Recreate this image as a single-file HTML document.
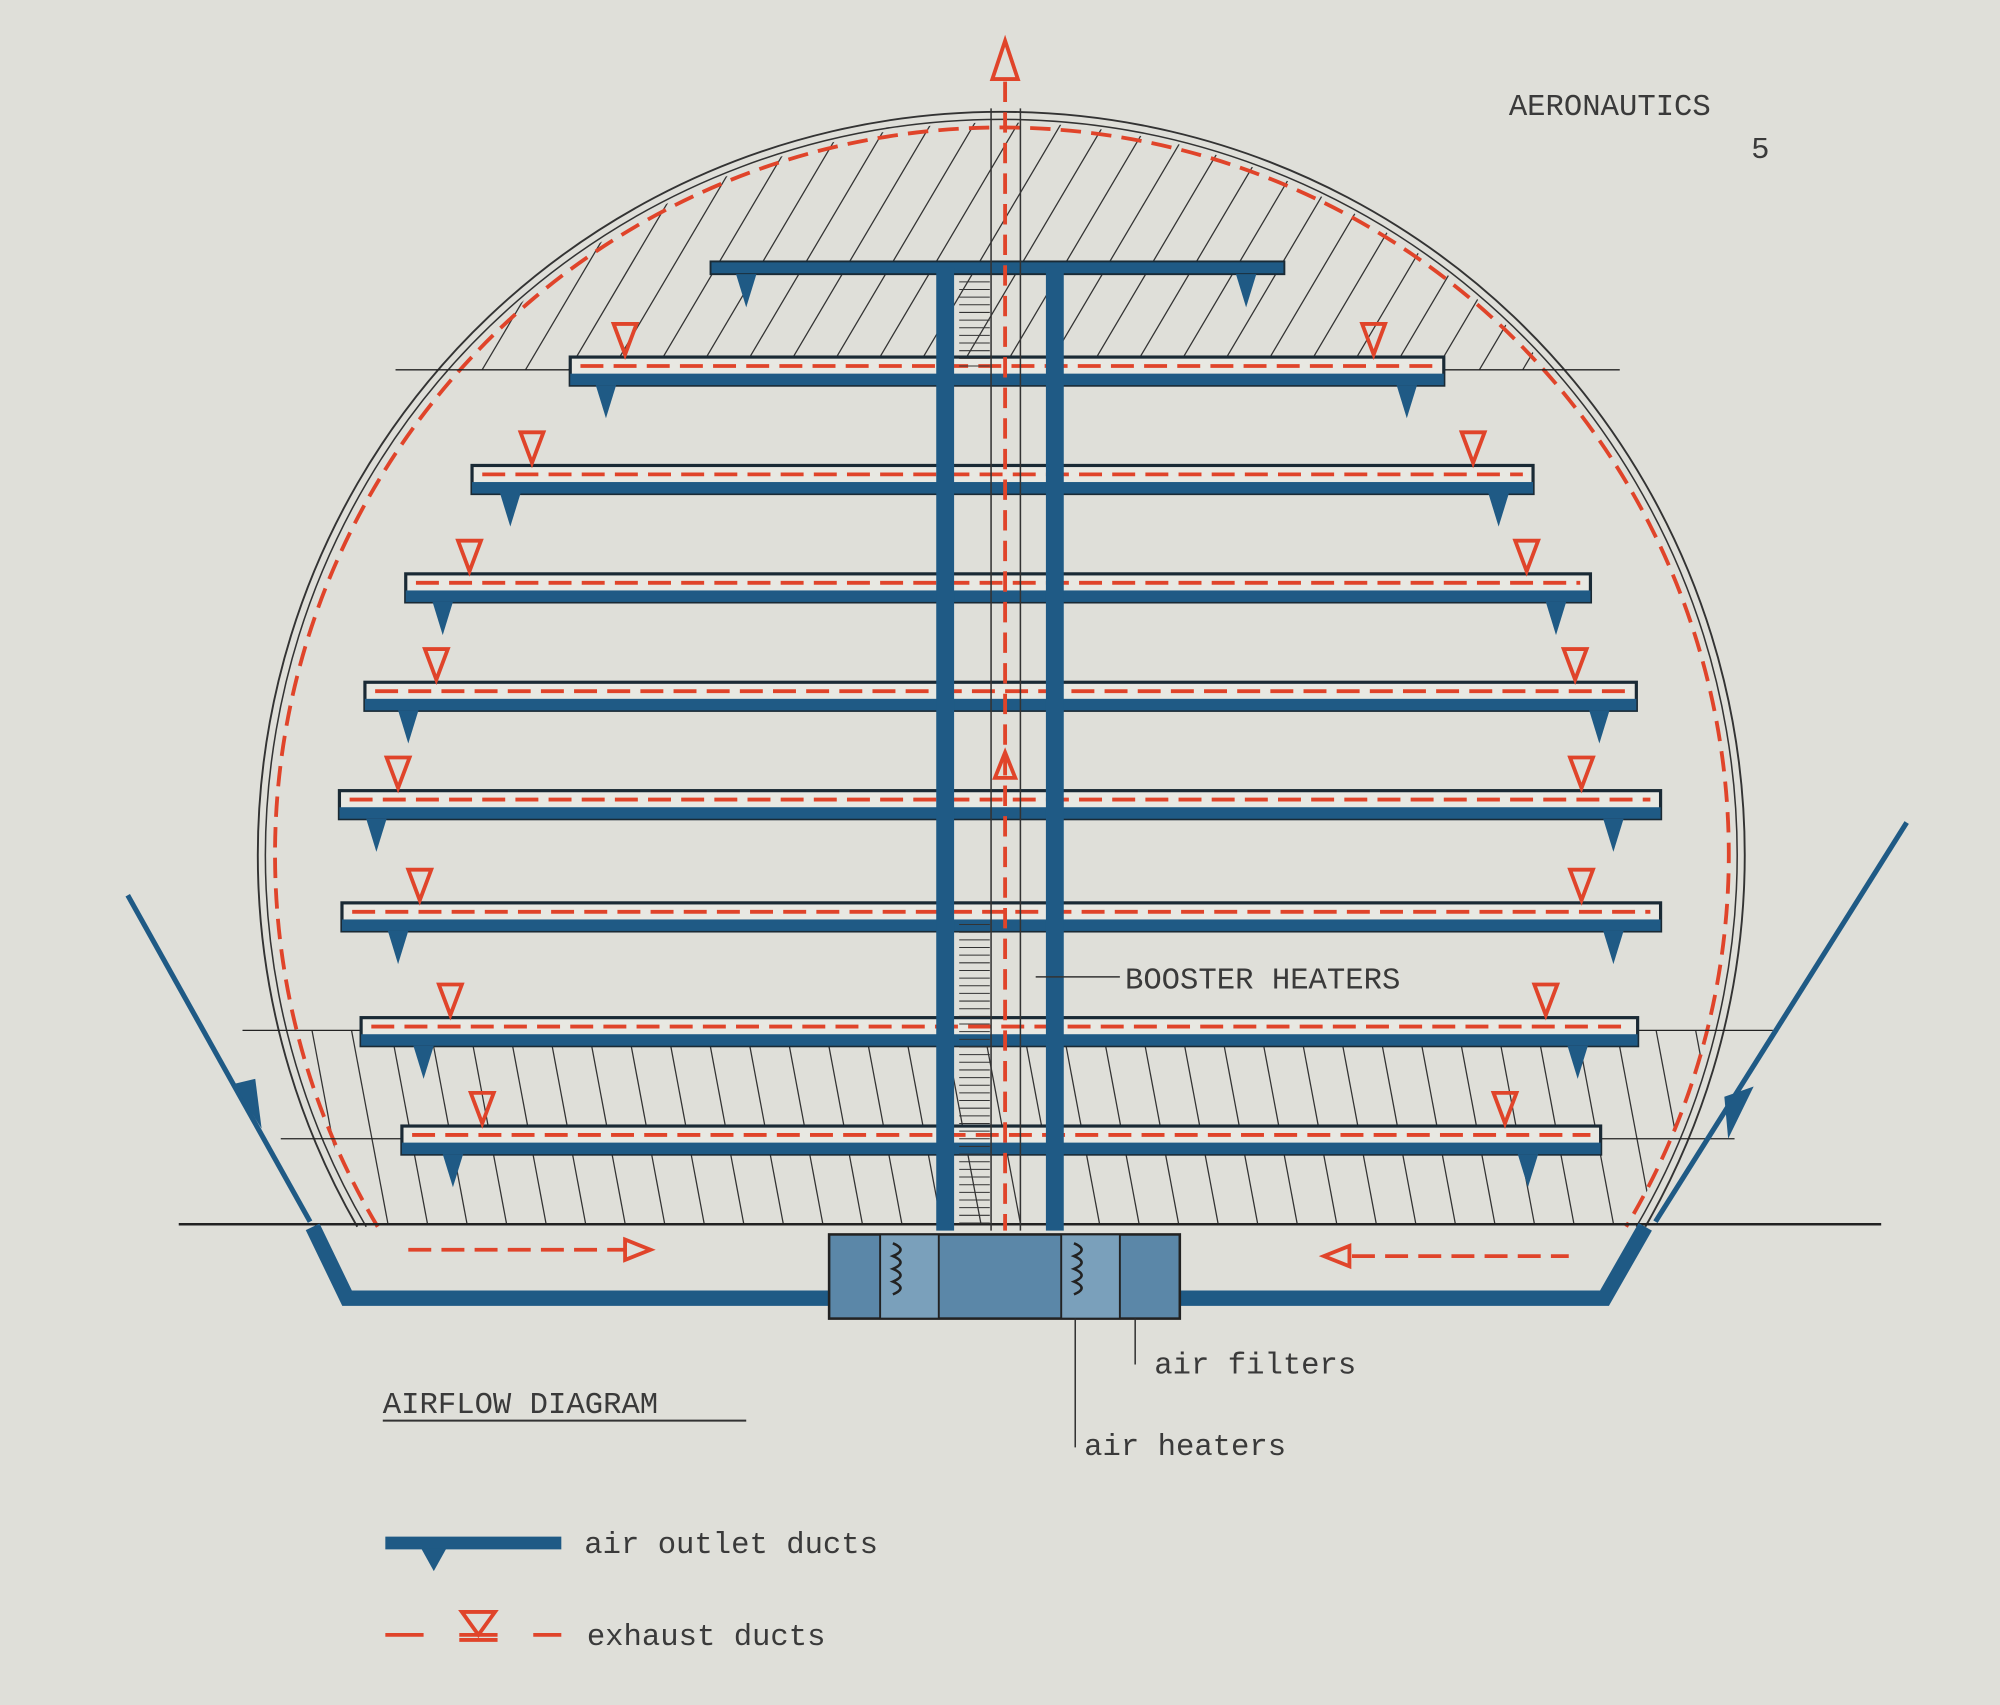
<!DOCTYPE html>
<html><head><meta charset="utf-8"><title>Airflow Diagram</title>
<style>
html,body{margin:0;padding:0;background:#dfdfd9;}
svg{display:block;}
text{font-family:"Liberation Mono",monospace;fill:#3a3a3a;}
</style></head>
<body>
<svg id="chart" width="2000" height="1705" viewBox="0 0 1568 1337" xmlns="http://www.w3.org/2000/svg">
<defs>
<clipPath id="dome"><circle cx="785" cy="668" r="572"/></clipPath>
<clipPath id="topband"><rect x="150" y="85" width="1300" height="205"/></clipPath>
<clipPath id="botband"><rect x="150" y="808" width="1300" height="152"/></clipPath>
</defs>
<rect x="0" y="0" width="1568" height="1337" fill="#dfdfd9"/>
<g id="hatch-top" clip-path="url(#dome)"><g clip-path="url(#topband)" id="ht"></g></g>
<g id="hatch-bot" clip-path="url(#dome)"><g clip-path="url(#botband)" id="hb"></g></g>
<g fill="none">
<path d="M 280 962 A 583 583 0 1 1 1290 962" stroke="#333" stroke-width="1.5"/>
<path d="M 287 962 A 577 577 0 1 1 1283 962" stroke="#333" stroke-width="1.2"/>
<path d="M 296 962 A 570 570 0 1 1 1275 962" stroke="#e0442a" stroke-width="3" stroke-dasharray="16 8"/>
</g>
<line x1="140" y1="960" x2="1475" y2="960" stroke="#222" stroke-width="2"/>
<line x1="310" y1="290" x2="1270" y2="290" stroke="#222" stroke-width="1"/>
<line x1="190" y1="808" x2="1390" y2="808" stroke="#222" stroke-width="1"/>
<line x1="220" y1="893" x2="1360" y2="893" stroke="#222" stroke-width="1"/>
<path d="M 245 962 L 272 1018 L 1258 1018 L 1290 962" fill="none" stroke="#1f5a85" stroke-width="12"/>
<g id="floors"></g>
<g>
<rect x="734" y="210" width="14" height="755" fill="#1f5a85"/>
<rect x="820" y="210" width="14" height="755" fill="#1f5a85"/>
<line x1="777" y1="85" x2="777" y2="965" stroke="#333" stroke-width="1.2"/>
<line x1="800" y1="85" x2="800" y2="965" stroke="#333" stroke-width="1.2"/>
<line x1="788" y1="40" x2="788" y2="965" stroke="#e0442a" stroke-width="3" stroke-dasharray="16 8"/>
<polygon points="778,62 788,32 798,62" fill="#dfdfd9" stroke="#e0442a" stroke-width="3"/>
<polygon points="780,610 788,590 796,610" fill="none" stroke="#e0442a" stroke-width="3"/>
<g stroke="#333" stroke-width="0.8" id="booster"></g>
</g>
<g>
<rect x="650" y="968" width="275" height="66" fill="#5b87a8" stroke="#222" stroke-width="2"/>
<rect x="690" y="968" width="46" height="66" fill="#7aa0bb" stroke="#222" stroke-width="1.5"/>
<rect x="832" y="968" width="46" height="66" fill="#7aa0bb" stroke="#222" stroke-width="1.5"/>
<path d="M700 975 q12 5 0 10 q12 5 0 10 q12 5 0 10 q12 5 0 10" fill="none" stroke="#222" stroke-width="2"/>
<path d="M842 975 q12 5 0 10 q12 5 0 10 q12 5 0 10 q12 5 0 10" fill="none" stroke="#222" stroke-width="2"/>
</g>
<g>
<line x1="320" y1="980" x2="490" y2="980" stroke="#e0442a" stroke-width="3" stroke-dasharray="18 8"/>
<polygon points="490,972 510,980 490,988" fill="none" stroke="#e0442a" stroke-width="3"/>
<line x1="1060" y1="985" x2="1230" y2="985" stroke="#e0442a" stroke-width="3" stroke-dasharray="18 8"/>
<polygon points="1058,977 1038,985 1058,993" fill="none" stroke="#e0442a" stroke-width="3"/>
</g>
<g stroke="#1f5a85" stroke-width="4" fill="#1f5a85">
<line x1="100" y1="702" x2="243" y2="958"/>
<polygon points="183,850 205,885 200,846" stroke="none"/>
<line x1="1495" y1="645" x2="1298" y2="958"/>
<polygon points="1355,893 1375,852 1352,860" stroke="none"/>
</g>
<g>
<text x="1183" y="90" font-size="24">AERONAUTICS</text>
<text x="1373" y="124" font-size="24">5</text>
<line x1="812" y1="766" x2="878" y2="766" stroke="#333" stroke-width="1.2"/>
<text x="882" y="775" font-size="24">BOOSTER HEATERS</text>
<line x1="890" y1="1034" x2="890" y2="1070" stroke="#333" stroke-width="1.2"/>
<text x="905" y="1077" font-size="24">air filters</text>
<line x1="843" y1="1034" x2="843" y2="1135" stroke="#333" stroke-width="1.2"/>
<text x="850" y="1141" font-size="24">air heaters</text>
<text x="300" y="1108" font-size="24">AIRFLOW DIAGRAM</text>
<line x1="300" y1="1114" x2="585" y2="1114" stroke="#333" stroke-width="1.5"/>
<g>
<line x1="302" y1="1210" x2="440" y2="1210" stroke="#1f5a85" stroke-width="10"/>
<polygon points="330,1214 350,1214 340,1232" fill="#1f5a85"/>
<text x="458" y="1218" font-size="24">air outlet ducts</text>
</g>
<g>
<line x1="302" y1="1282" x2="440" y2="1282" stroke="#e0442a" stroke-width="3" stroke-dasharray="30 28"/>
<polygon points="362,1264 388,1264 375,1282" fill="none" stroke="#e0442a" stroke-width="3"/>
<line x1="360" y1="1286" x2="390" y2="1286" stroke="#e0442a" stroke-width="3"/>
<text x="460" y="1290" font-size="24">exhaust ducts</text>
</g>
</g>
</svg>
<script>
var floorY=[210,290,375,460,545,630,718,808,893];
var floorLeft=[557,447,370,318,286,266,268,283,315];
var floorRight=[1007,1132,1202,1247,1283,1302,1302,1284,1255];
var outletLeft=[585,475,400,347,320,295,312,332,355];
var outletRight=[977,1103,1175,1220,1254,1265,1265,1237,1198];
var exhaustLeft=[null,490,417,368,342,312,329,353,378];
var exhaustRight=[null,1077,1155,1197,1235,1240,1240,1212,1180];
var NS="http://www.w3.org/2000/svg";
function mk(tag,attrs,parent){var e=document.createElementNS(NS,tag);for(var k in attrs)e.setAttribute(k,attrs[k]);parent.appendChild(e);return e;}
var fg=document.getElementById('floors');
for(var i=0;i<floorY.length;i++){
 var y=floorY[i],x1=floorLeft[i],x2=floorRight[i];
 var g=mk('g',{},fg);
 
 
 if(i===0){
  mk('rect',{x:x1,y:y-5,width:x2-x1,height:10,fill:'#1f5a85',stroke:'#1a2a35','stroke-width':1.5},g);
 } else {
  mk('rect',{x:x1,y:y-10,width:x2-x1,height:22,fill:'#e8e8e2',stroke:'#1a2a35','stroke-width':2.5},g);
  mk('rect',{x:x1,y:y+3,width:x2-x1,height:9,fill:'#1f5a85'},g);
  mk('line',{x1:x1+8,y1:y-3,x2:x2-8,y2:y-3,stroke:'#e0442a','stroke-width':3,'stroke-dasharray':'18 8'},g);
 }
 var ob=i===0?y+5:y+12;
 [outletLeft[i],outletRight[i]].forEach(function(ox){
  var t=mk('polygon',{points:(ox-8)+','+ob+' '+(ox+8)+','+ob+' '+ox+','+(ob+26),fill:'#1f5a85'},g);
  
  
 });
 [exhaustLeft[i],exhaustRight[i]].forEach(function(ex){
  if(ex===null)return;
  var t=mk('polygon',{points:(ex-9)+','+(y-36)+' '+(ex+9)+','+(y-36)+' '+ex+','+(y-12),fill:'none',stroke:'#e0442a','stroke-width':3},g);
  
  
 });
}
var ht=document.getElementById('ht'),hb=document.getElementById('hb');
for(var x=100;x<1500;x+=34){mk('line',{x1:x,y1:300,x2:x+130,y2:80,stroke:'#333','stroke-width':1},ht);}
for(var x=150;x<1450;x+=31){mk('line',{x1:x,y1:800,x2:x+32,y2:970,stroke:'#333','stroke-width':1},hb);}
var bs=document.getElementById('booster');
for(var yy=215;yy<960;yy+=6){ if((yy>215&&yy<290)||(yy>720&&yy<960)) mk('line',{x1:752,y1:yy,x2:776,y2:yy},bs);}
</script>
</body></html>
